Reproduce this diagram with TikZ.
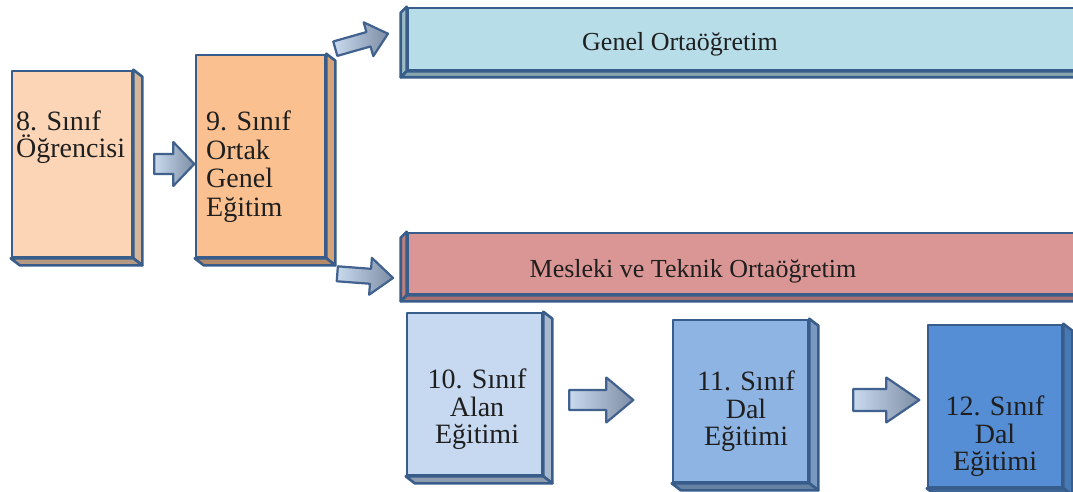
\documentclass[tikz,border=0pt]{standalone}
\usepackage{fontspec}
\setmainfont{Liberation Serif}
\usetikzlibrary{calc}
\definecolor{ceight}{HTML}{FBD5B5}
\definecolor{cnine}{HTML}{FAC090}
\definecolor{cgenel}{HTML}{B7DDE8}
\definecolor{cmes}{HTML}{D99694}
\definecolor{cten}{HTML}{C6D9F1}
\definecolor{celeven}{HTML}{8EB4E3}
\definecolor{ctwelve}{HTML}{558ED5}
\definecolor{edge}{HTML}{385D8A}
\definecolor{arredge}{HTML}{41618F}
\definecolor{arrlight}{HTML}{C9D9EE}
\definecolor{arrdark}{HTML}{7D8DA4}
\definecolor{ink}{HTML}{1F1F1F}
\newcommand\fsz[2]{\fontsize{#1}{#2}\selectfont}
\tikzset{
  box/.style={draw=edge, line width=2.6pt, rectangle, inner sep=0pt, line join=round},
  face/.style={draw=edge, line width=2.6pt, line join=round},
  txt/.style={text=ink, inner sep=0pt},
  arrowbody/.style={draw=arredge, line width=2.2pt, line join=round, left color=arrlight, right color=arrdark},
  pics/barrow/.style n args={4}{code={
    \draw[arrowbody] (0,-#2) -- ({#1-#4},-#2) -- ({#1-#4},-#3) -- (#1,0)
      -- ({#1-#4},#3) -- ({#1-#4},#2) -- (0,#2) -- cycle;
  }}
}
\begin{document}
\begin{tikzpicture}[x=1pt,y=-1pt]
\useasboundingbox (0,0) rectangle (1073,492);
\clip (0,0) rectangle (1073,492);
\fill[white] (0,0) rectangle (1073,492);

% ---- left boxes
\node[box, fill=ceight, minimum width=120pt, minimum height=186pt] (b8) at (72,164) {};
\node[box, fill=cnine, minimum width=129pt, minimum height=202pt] (b9) at (260.5,156) {};
% ---- banners
\node[box, fill=cgenel, minimum width=672pt, minimum height=62pt] (gen) at (744,39) {};
\node[box, fill=cmes, minimum width=672pt, minimum height=61pt] (mes) at (744,263.5) {};
% ---- lower boxes
\node[box, fill=cten, minimum width=135pt, minimum height=162pt] (b10) at (474.5,394) {};
\node[box, fill=celeven, minimum width=135pt, minimum height=162pt] (b11) at (740.5,401) {};
\node[box, fill=ctwelve, minimum width=134pt, minimum height=162pt] (b12) at (995,406) {};

% ---- 3D faces of boxes (depth to the right and down)
\foreach \b/\c in {b8/ceight, b9/cnine, b10/cten, b11/celeven, b12/ctwelve}{
  \draw[face, fill=\c!85!black] (\b.north east) -- ++(9,7) -- ($(\b.south east)+(9,7)$) -- (\b.south east) -- cycle;
  \draw[face, fill=\c!72!black] (\b.south west) -- ++(9,7) -- ($(\b.south east)+(9,7)$) -- (\b.south east) -- cycle;
}
% ---- 3D faces of banners (depth to the left and down)
\foreach \b/\c in {gen/cgenel, mes/cmes}{
  \draw[face, fill=\c!85!black] (\b.north west) -- ++(-6,6) -- ($(\b.south west)+(-6,6)$) -- (\b.south west) -- cycle;
  \draw[face, fill=\c!75!black] (\b.south west) -- ++(-6,6) -- ($(\b.south east)+(-6,6)$) -- (\b.south east) -- cycle;
}

% ---- texts
\node[txt, anchor=north west, align=left, font={\fsz{28}{27}}] (t8) at (16,111) {8. Sınıf\\Öğrencisi};
\node[txt, anchor=north west, align=left, font={\fsz{28}{28.5}}] (t9) at (206,111) {9. Sınıf\\Ortak\\Genel\\Eğitim};
\node[txt, anchor=base, font={\fsz{26}{30}}] (tgen) at (680,51) {Genel Ortaöğretim};
\node[txt, anchor=base, font={\fsz{26}{30}}] (tmes) at (693,277) {Mesleki ve Teknik Ortaöğretim};
\node[txt, anchor=north, align=center, font={\fsz{28}{27.5}}] (t10) at (477,369) {10. Sınıf\\Alan\\Eğitimi};
\node[txt, anchor=north, align=center, font={\fsz{28}{27.5}}] (t11) at (746,371) {11. Sınıf\\Dal\\Eğitimi};
\node[txt, anchor=north, align=center, font={\fsz{28}{27.5}}] (t12) at (995,396) {12. Sınıf\\Dal\\Eğitimi};

% ---- block arrows
\pic at ($(b8.east)+(21,0)$) {barrow={40}{10}{22}{21}};
\pic[rotate=15.9] at ($(b9.north east)+(9,-5)$) {barrow={54.8}{7.5}{17.6}{20.3}};
\pic[rotate=-4.3] at ($(b9.south east)+(11,15.5)$) {barrow={55.9}{7.5}{18.5}{22.6}};
\pic at ($(b10.east)+(26,6)$) {barrow={64}{10}{22.5}{27}};
\pic at ($(b11.east)+(44,-1)$) {barrow={66}{11}{22.5}{33}};
\end{tikzpicture}
\end{document}
